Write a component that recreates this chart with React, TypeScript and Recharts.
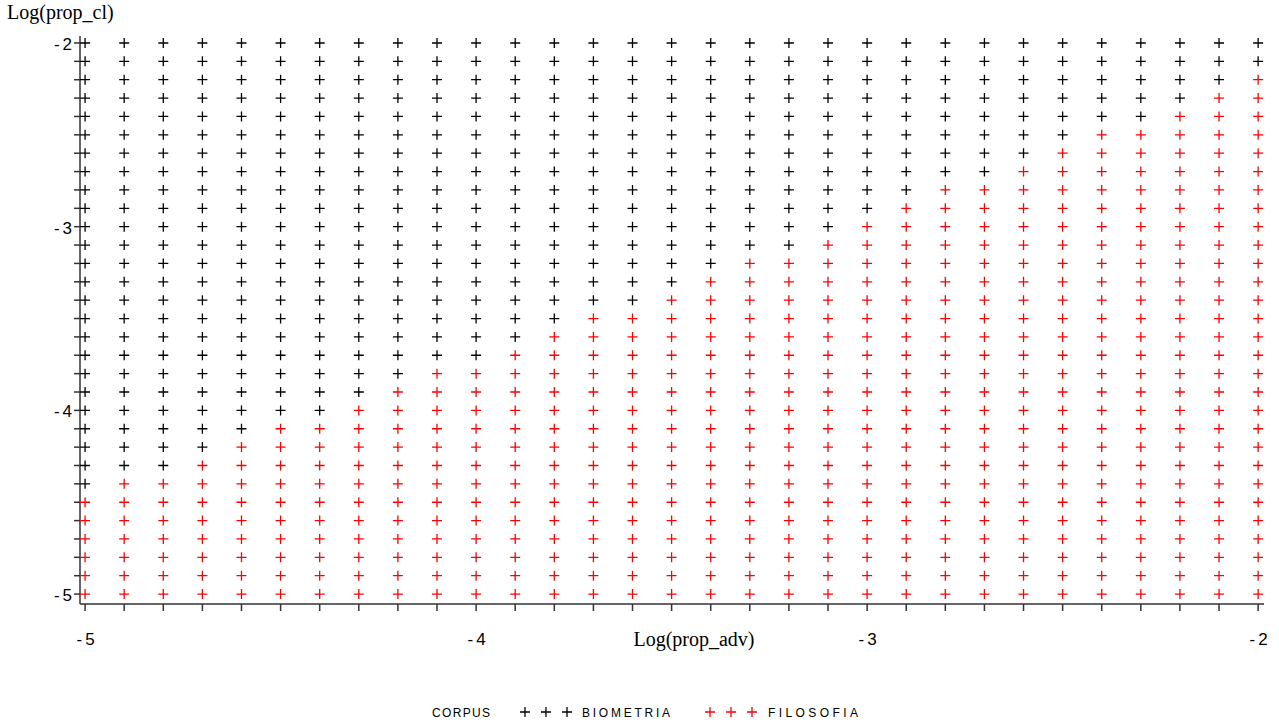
import React from 'react';
import { ScatterChart, Scatter, XAxis, YAxis } from 'recharts';

// grid of evaluated points, Log(prop_adv) across, Log(prop_cl) down
const xValues = [
  -5.0, -4.9, -4.8, -4.7, -4.6, -4.5, -4.4, -4.3, -4.2, -4.1,
  -4.0, -3.9, -3.8, -3.7, -3.6, -3.5, -3.4, -3.3, -3.2, -3.1,
  -3.0, -2.9, -2.8, -2.7, -2.6, -2.5, -2.4, -2.3, -2.2, -2.1, -2.0,
];
const yValues = [
  -2.0, -2.1, -2.2, -2.3, -2.4, -2.5, -2.6, -2.7, -2.8, -2.9,
  -3.0, -3.1, -3.2, -3.3, -3.4, -3.5, -3.6, -3.7, -3.8, -3.9,
  -4.0, -4.1, -4.2, -4.3, -4.4, -4.5, -4.6, -4.7, -4.8, -4.9, -5.0,
];
// for each row (same order as yValues): first x classified as FILOSOFIA, null = none
const boundaryX = [
  null, null, -2.0, -2.1, -2.2, -2.4, -2.5, -2.6, -2.8, -2.9,
  -3.0, -3.1, -3.3, -3.4, -3.5, -3.7, -3.8, -3.9, -4.1, -4.2,
  -4.3, -4.5, -4.6, -4.7, -4.9, -5.0, -5.0, -5.0, -5.0, -5.0, -5.0,
];
const xTickLabels = [-5, -4, -3, -2];
const yTickLabels = [-5, -4, -3, -2];

const SERIES = [
  { name: 'BIOMETRIA', color: '#000000' },
  { name: 'FILOSOFIA', color: '#ff0000' },
];

const biometria: { x: number; y: number }[] = [];
const filosofia: { x: number; y: number }[] = [];
yValues.forEach((y, i) => {
  const b = boundaryX[i];
  xValues.forEach((x) => {
    if (b === null || x < b - 1e-6) biometria.push({ x, y });
    else filosofia.push({ x, y });
  });
});

const isLabel = (list: number[], v: number) => list.some((t) => Math.abs(t - v) < 1e-6);

const plus = (color: string) => (props: any) => {
  const { cx, cy } = props;
  if (cx == null || cy == null) return <g />;
  return (
    <path
      d={`M${cx - 5},${cy}H${cx + 5}M${cx},${cy - 5}V${cy + 5}`}
      stroke={color}
      strokeWidth={1.3}
      fill="none"
    />
  );
};

const sans = "'Liberation Sans', Arial, sans-serif";
const serif = "'Liberation Serif', 'Times New Roman', serif";
const axisColor = '#333';

const XTick = (props: any) => {
  const { x, payload } = props;
  if (!isLabel(xTickLabels, payload.value)) return <g />;
  return (
    <text x={x + 2} y={645} textAnchor="middle" fontFamily={sans} fontSize={17} letterSpacing={3} fill="#000">
      {Math.round(payload.value)}
    </text>
  );
};

const YTick = (props: any) => {
  const { y, payload } = props;
  if (!isLabel(yTickLabels, payload.value)) return <g />;
  return (
    <text x={75} y={y + 7} textAnchor="end" fontFamily={sans} fontSize={17} letterSpacing={3} fill="#000">
      {Math.round(payload.value)}
    </text>
  );
};

export default function App() {
  return (
    <div style={{ position: 'absolute', left: 0, top: 0, width: 1279, height: 728, background: '#fff' }}>
      <ScatterChart width={1279} height={728} margin={{ top: 36, right: 15, left: 0, bottom: 0 }}>
        <XAxis
          xAxisId={0}
          type="number"
          dataKey="x"
          domain={[-5.013, -1.985]}
          allowDataOverflow
          ticks={xValues}
          interval={0}
          tick={<XTick />}
          tickSize={7}
          tickMargin={0}
          height={124}
          stroke={axisColor}
          strokeWidth={1.5}
        />
        <XAxis xAxisId="top" orientation="top" type="number" domain={[-5.013, -1.985]} allowDataOverflow height={0} tick={false} tickLine={false} stroke={axisColor} strokeWidth={1.5} />
        <YAxis
          yAxisId={0}
          type="number"
          dataKey="y"
          domain={[-5.054, -1.962]}
          allowDataOverflow
          ticks={yValues}
          interval={0}
          tick={<YTick />}
          tickSize={6}
          tickMargin={0}
          width={80}
          stroke={axisColor}
          strokeWidth={1.5}
        />
        <YAxis yAxisId="right" orientation="right" type="number" domain={[-5.054, -1.962]} allowDataOverflow width={0} tick={false} tickLine={false} stroke={axisColor} strokeWidth={1.5} />
        <Scatter name={SERIES[0].name} data={biometria} xAxisId={0} yAxisId={0} shape={plus(SERIES[0].color)} isAnimationActive={false} />
        <Scatter name={SERIES[1].name} data={filosofia} xAxisId={0} yAxisId={0} shape={plus(SERIES[1].color)} isAnimationActive={false} />
      </ScatterChart>

      <div style={{ position: 'absolute', left: 7, top: 2, fontFamily: serif, fontSize: 20, lineHeight: '20px', color: '#000', whiteSpace: 'nowrap' }}>
        Log(prop_cl)
      </div>
      <div style={{ position: 'absolute', left: 594, width: 200, textAlign: 'center', top: 629, fontFamily: serif, fontSize: 20, lineHeight: '20px', color: '#000', whiteSpace: 'nowrap' }}>
        Log(prop_adv)
      </div>

      <svg width={1279} height={40} style={{ position: 'absolute', left: 0, top: 688 }}>
        <text x={432} y={29} fontFamily={sans} fontSize={12} textLength={58} lengthAdjust="spacing" fill="#000">
          CORPUS
        </text>
        {SERIES.map((s, si) => {
          const start = si === 0 ? 525 : 710;
          const labelX = si === 0 ? 582 : 768;
          const width = si === 0 ? 88 : 90;
          return (
            <g key={s.name}>
              {[0, 1, 2].map((k) => {
                const cx = start + k * 21;
                return <path key={k} d={`M${cx - 5},${24}H${cx + 5}M${cx},${19}V${29}`} stroke={s.color} strokeWidth={1.3} fill="none" />;
              })}
              <text x={labelX} y={29} fontFamily={sans} fontSize={12} textLength={width} lengthAdjust="spacing" fill="#000">
                {s.name}
              </text>
            </g>
          );
        })}
      </svg>
    </div>
  );
}
